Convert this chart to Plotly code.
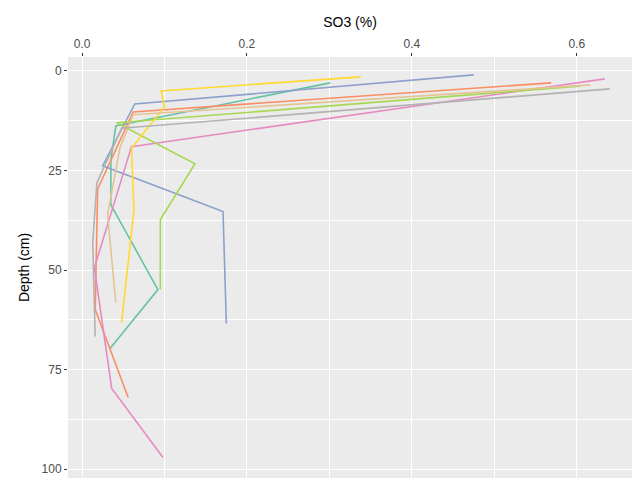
import plotly.graph_objects as go

# Data (SO3 % vs depth cm), one profile per site
sites = ["A", "B", "C", "D", "E", "F", "G", "H"]
colors = ["#66C2A5", "#FC8D62", "#8DA0CB", "#E78AC3", "#A6D854", "#FFD92F", "#E5C494", "#B3B3B3"]

so3_A = [0.301, 0.041, 0.035, 0.035, 0.092, 0.034]
depth_A = [3.0, 13.8, 22.3, 33.6, 54.9, 69.7]

so3_B = [0.569, 0.062, 0.019, 0.016, 0.056]
depth_B = [3.0, 10.3, 29.6, 59.9, 82.0]

so3_C = [0.475, 0.064, 0.025, 0.171, 0.175]
depth_C = [1.0, 8.3, 23.8, 35.3, 63.4]

so3_D = [0.634, 0.060, 0.015, 0.036, 0.098]
depth_D = [2.0, 19.0, 49.4, 79.7, 97.0]

so3_E = [0.604, 0.042, 0.137, 0.095, 0.095]
depth_E = [3.8, 13.0, 23.3, 37.3, 54.9]

so3_F = [0.338, 0.096, 0.100, 0.060, 0.063, 0.048]
depth_F = [1.5, 5.0, 9.0, 19.4, 34.8, 63.2]

so3_G = [0.616, 0.062, 0.054, 0.046, 0.031, 0.041]
depth_G = [3.5, 11.0, 15.2, 19.3, 36.1, 58.1]

so3_H = [0.640, 0.048, 0.018, 0.013, 0.016]
depth_H = [4.5, 14.4, 28.1, 43.1, 66.7]

xs = [so3_A, so3_B, so3_C, so3_D, so3_E, so3_F, so3_G, so3_H]
ys = [depth_A, depth_B, depth_C, depth_D, depth_E, depth_F, depth_G, depth_H]

x_ticks = [0.0, 0.2, 0.4, 0.6]
y_ticks = [0, 25, 50, 75, 100]

fig = go.Figure()
for name, c, x, y in zip(sites, colors, xs, ys):
    fig.add_trace(go.Scatter(x=x, y=y, mode="lines", name=name,
                             line=dict(color=c, width=1.6), showlegend=False))

font = "Liberation Sans, Arial, sans-serif"
fig.update_layout(
    width=636, height=478,
    margin=dict(l=68, r=4, t=57, b=0),
    paper_bgcolor="white", plot_bgcolor="#EBEBEB",
    font=dict(family=font, color="#4D4D4D", size=12),
    xaxis=dict(
        side="top", range=[-0.017, 0.667],
        tickvals=x_ticks, ticktext=[f"{v:.1f}" for v in x_ticks],
        showgrid=True, gridcolor="white", gridwidth=1.2,
        minor=dict(tickvals=[0.1, 0.3, 0.5], showgrid=True, gridcolor="white", gridwidth=0.6),
        ticks="outside", ticklen=3, tickcolor="#333333", tickwidth=1,
        zeroline=False, showline=False,
        title=dict(text="SO3 (%)", font=dict(size=14, color="black", family=font), standoff=6),
        tickfont=dict(size=12, color="#4D4D4D"),
    ),
    yaxis=dict(
        range=[102.2, -3.5],
        tickvals=y_ticks, ticktext=[str(v) for v in y_ticks],
        showgrid=True, gridcolor="white", gridwidth=1.2,
        minor=dict(tickvals=[12.5, 37.5, 62.5, 87.5], showgrid=True, gridcolor="white", gridwidth=0.6),
        ticks="outside", ticklen=3, tickcolor="#333333", tickwidth=1,
        zeroline=False, showline=False,
        title=dict(text="Depth (cm)", font=dict(size=14, color="black", family=font), standoff=8),
        tickfont=dict(size=12, color="#4D4D4D"),
    ),
)

fig.write_html("out.html")
